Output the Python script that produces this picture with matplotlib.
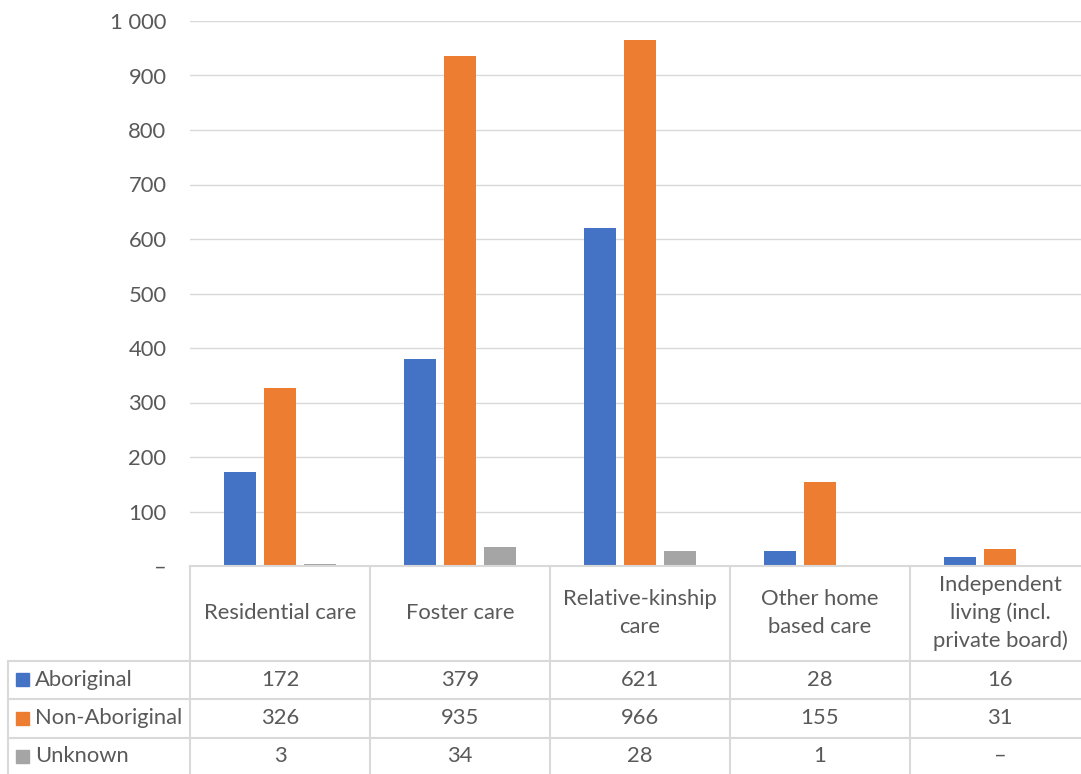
import matplotlib
matplotlib.use("Agg")
import matplotlib.pyplot as plt
from matplotlib.lines import Line2D
from matplotlib.patches import Rectangle
from matplotlib.transforms import blended_transform_factory
import numpy as np

CATEGORIES = [
    "Residential care",
    "Foster care",
    "Relative-kinship\ncare",
    "Other home\nbased care",
    "Independent\nliving (incl.\nprivate board)",
]
SERIES = ["Aboriginal", "Non-Aboriginal", "Unknown"]
ABORIGINAL = [172, 379, 621, 28, 16]
NON_ABORIGINAL = [326, 935, 966, 155, 31]
UNKNOWN = [3, 34, 28, 1, 0]
UNKNOWN_LABELS = ["3", "34", "28", "1", "\u2013"]
COLORS = ["#4472C4", "#ED7D31", "#A5A5A5"]
Y_TICKS = [0, 100, 200, 300, 400, 500, 600, 700, 800, 900, 1000]

W, H = 1081, 774
TEXT = "#595959"
GRID = "#d9d9d9"
plt.rcParams["font.family"] = ["Lato", "DejaVu Sans"]
FS = 15.8


def fx(px):
    return px / W


def fy(py):
    return 1 - py / H


fig = plt.figure(figsize=(W / 100, H / 100), dpi=100)
ax = fig.add_axes([fx(190), fy(566), 900 / W, (566 - 21) / H])

x = np.arange(len(CATEGORIES))
values = [ABORIGINAL, NON_ABORIGINAL, UNKNOWN]
width = 32 / 180
offset = 40 / 180
for i, (vals, col) in enumerate(zip(values, COLORS)):
    ax.bar(x + (i - 1) * offset, vals, width=width, color=col, zorder=3)

ax.set_xlim(-0.5, len(CATEGORIES) - 0.5)
ax.set_ylim(0, 1000)
ax.set_yticks(Y_TICKS)
ax.set_yticklabels(["\u2013" if t == 0 else f"{t:,}".replace(",", " ") for t in Y_TICKS])
ax.tick_params(axis="y", length=0, pad=17, labelsize=FS, labelcolor=TEXT)
ax.set_xticks([])
ax.grid(axis="y", color=GRID, linewidth=1, zorder=0)
for s in ax.spines.values():
    s.set_visible(False)

# data table below the plot
lw = 1.5
for py in [566, 661, 699, 737.5]:
    x0 = 190 if py == 566 else 8
    fig.add_artist(Line2D([fx(x0), 1], [fy(py), fy(py)], color=GRID, lw=lw))
fig.add_artist(Line2D([fx(8), fx(8)], [fy(661), 0], color=GRID, lw=lw))
for px in [190, 370, 550, 730, 910]:
    fig.add_artist(Line2D([fx(px), fx(px)], [fy(566), 0], color=GRID, lw=lw))

tr = blended_transform_factory(ax.transData, fig.transFigure)
for i, cat in enumerate(CATEGORIES):
    fig.text(i, fy(613), cat, transform=tr, ha="center", va="center",
             fontsize=FS, color=TEXT, linespacing=1.45)

row_y = [679.5, 718, 756]
row_labels = [[str(v) for v in ABORIGINAL], [str(v) for v in NON_ABORIGINAL], UNKNOWN_LABELS]
for name, col, py, labels in zip(SERIES, COLORS, row_y, row_labels):
    fig.add_artist(Rectangle((fx(16), fy(py + 6.5)), 13 / W, 13 / H, color=col,
                             transform=fig.transFigure))
    fig.text(fx(35), fy(py), name, ha="left", va="center", fontsize=FS, color=TEXT)
    for i, lab in enumerate(labels):
        fig.text(i, fy(py), lab, transform=tr, ha="center", va="center",
                 fontsize=FS, color=TEXT)

fig.savefig("out.png", dpi=100)
